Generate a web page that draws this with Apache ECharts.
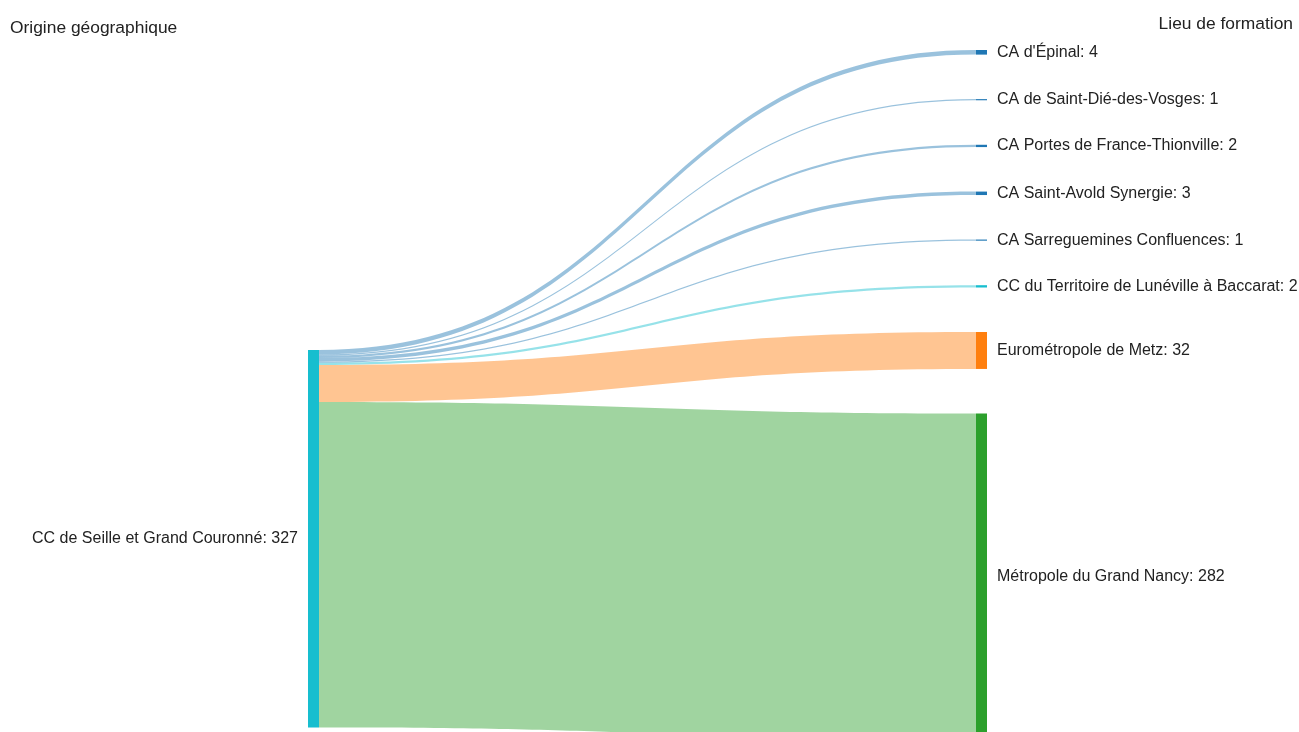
<!DOCTYPE html>
<html>
<head>
<meta charset="utf-8">
<script src="https://cdn.jsdelivr.net/npm/echarts@6/dist/echarts.min.js"></script>
<style>html,body{margin:0;padding:0;background:#fff}#c{width:1299px;height:732px}</style>
</head>
<body>
<div id="c"></div>
<script>
const sourceName = "CC de Seille et Grand Couronné";
const targetNames = [
  "CA d'Épinal",
  "CA de Saint-Dié-des-Vosges",
  "CA Portes de France-Thionville",
  "CA Saint-Avold Synergie",
  "CA Sarreguemines Confluences",
  "CC du Territoire de Lunéville à Baccarat",
  "Eurométropole de Metz",
  "Métropole du Grand Nancy"
];
const targetValues = [4, 1, 2, 3, 1, 2, 32, 282];
const targetColors = ["#1f77b4", "#1f77b4", "#1f77b4", "#1f77b4", "#1f77b4", "#17becf", "#ff7f0e", "#2ca02c"];
const sourceColor = "#17becf";
const leftTitle = "Origine géographique";
const rightTitle = "Lieu de formation";

const FONT = "'Liberation Sans', Arial, sans-serif";
const total = targetValues.reduce((a, b) => a + b, 0);
const nodes = [{
  name: sourceName,
  localX: 0,
  localY: 0.4354,
  itemStyle: { color: sourceColor },
  label: { position: 'left', distance: 10, formatter: sourceName + ': ' + total }
}].concat(targetNames.map((n, i) => ({
  name: n,
  itemStyle: { color: targetColors[i] },
  label: { position: 'right', distance: 10, formatter: n + ': ' + targetValues[i] }
})));
const links = targetNames.map((n, i) => ({ source: sourceName, target: n, value: targetValues[i] }));

const chart = echarts.init(document.getElementById('c'), null, { renderer: 'canvas' });
chart.setOption({
  animation: false,
  title: [
    { text: leftTitle, left: 5, top: 15, textStyle: { fontFamily: FONT, fontSize: 17.4, fontWeight: 'normal', color: '#222' } },
    { text: rightTitle, right: 1, top: 11, textStyle: { fontFamily: FONT, fontSize: 17.4, fontWeight: 'normal', color: '#222' } }
  ],
  series: [{
    type: 'sankey',
    left: 308,
    right: 312,
    top: 50,
    height: 689,
    nodeWidth: 11,
    nodeGap: 44.5,
    layoutIterations: 0,
    draggable: false,
    emphasis: { disabled: true },
    data: nodes,
    links: links,
    itemStyle: { borderWidth: 0 },
    lineStyle: { color: 'target', opacity: 0.45, curveness: 0.5 },
    label: { fontFamily: FONT, fontSize: 16, color: '#222' }
  }]
});
</script>
</body>
</html>
